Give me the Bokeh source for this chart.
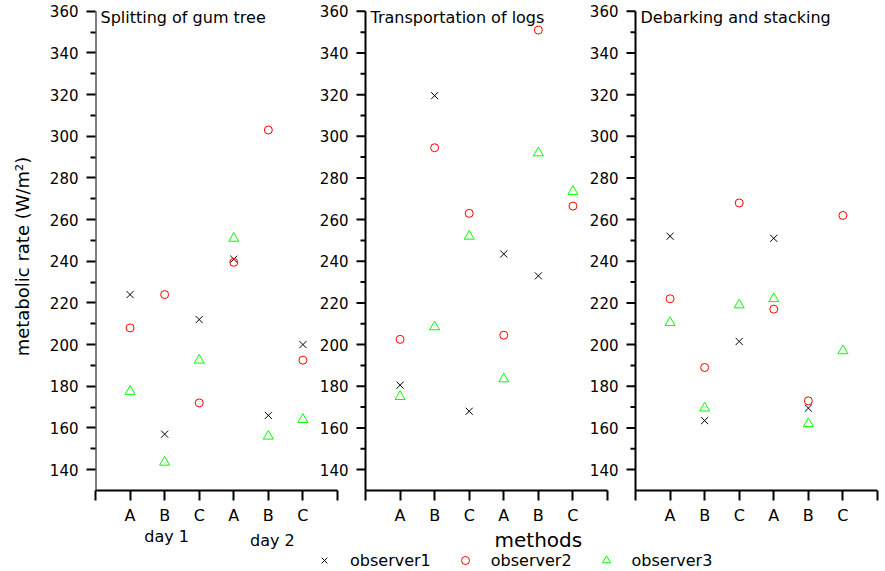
import math
from bokeh.plotting import figure
from bokeh.models import Range1d, FixedTicker, Label, Legend, LegendItem
from bokeh.layouts import row, column
from bokeh.core.properties import value
from bokeh.embed import file_html
from bokeh.resources import INLINE

nan = float("nan")

# ---------------- data ----------------
categories = ["A", "B", "C", "A", "B", "C"]
days = ["day 1", "day 2"]
panel_titles = ["Splitting of gum tree", "Transportation of logs", "Debarking and stacking"]
observers = ["observer1", "observer2", "observer3"]
x_title = "methods"
y_title = "metabolic rate (W/m²)"

gum_obs1 = [224, 157, 212, 241, 166, 200]
gum_obs2 = [208, 224, 172, 239.5, 303, 192.5]
gum_obs3 = [177.5, 143.5, 192.5, 251, 156, 164]

logs_obs1 = [180.5, 319.5, 168, 243.5, 233, nan]
logs_obs2 = [202.5, 294.5, 263, 204.5, 351, 266.5]
logs_obs3 = [175, 208.5, 252, 183.5, 292, 273.5]

debark_obs1 = [252, 163.5, 201.5, 251, 169.5, nan]
debark_obs2 = [222, 189, 268, 217, 173, 262]
debark_obs3 = [210.5, 169.5, 219, 222, 162, 197]

y_ticks = [140, 160, 180, 200, 220, 240, 260, 280, 300, 320, 340, 360]
y_minor = [150, 170, 190, 210, 230, 250, 270, 290, 310, 330, 350]

# ---------------- layout constants (page pixels) ----------------
FONT = "DejaVu Sans"
TOTAL_W, TOTAL_H = 884, 570
LBL_W = 40                 # narrow strip holding the y-axis title
MAIN_W = TOTAL_W - LBL_W
FRAME_LEFT = 95            # page x of the first panel's y axis
BL = FRAME_LEFT - LBL_W
FW = 782
BR = MAIN_W - BL - FW
MAIN_H = 527
FH = 495
BB = MAIN_H - FH
BOT_H = TOTAL_H - MAIN_H

SLOT = 100
PANEL_STEP = 781
X_END = 2 * PANEL_STEP + 7 * SLOT
px_x = FW / X_END
px_y = 481 / 230.0
Y0 = 128.5
Y1 = Y0 + FH / px_y
offsets = [i * PANEL_STEP for i in range(3)]
Y_AXIS_BOTTOM = 130
Y_AXIS_TOP = 360


def y_main(py):
    return Y1 - py / px_y


def y_bot(py):
    return TOTAL_H - py


def style(fig):
    fig.outline_line_color = None
    fig.background_fill_color = "white"
    fig.border_fill_color = "white"
    fig.xgrid.visible = False
    fig.ygrid.visible = False


xr = Range1d(0, X_END)

# ================= main figure =================
p = figure(width=MAIN_W, height=MAIN_H, x_range=xr, y_range=Range1d(Y0, Y1),
           output_backend="svg", toolbar_location=None,
           min_border_left=BL, min_border_right=BR, min_border_top=0, min_border_bottom=BB)
style(p)

yax = p.yaxis[0]
yax.ticker = FixedTicker(ticks=y_ticks, minor_ticks=y_minor)
yax.axis_line_color = None
yax.major_tick_line_width = 2
yax.minor_tick_line_width = 2
yax.major_tick_in = 0
yax.major_tick_out = 9
yax.minor_tick_in = 0
yax.minor_tick_out = 5
yax.major_label_standoff = 8
yax.major_label_text_font = FONT
yax.major_label_text_font_size = "15px"
yax.major_label_text_color = "black"

xt = []
overrides = {}
for off in offsets:
    for k in range(8):
        pos = off + k * SLOT
        xt.append(pos)
        overrides[pos] = categories[k - 1] if 1 <= k <= 6 else ""
xax = p.xaxis[0]
xax.ticker = FixedTicker(ticks=xt, minor_ticks=[])
xax.major_label_overrides = overrides
xax.axis_line_color = None
xax.major_tick_in = 3
xax.major_tick_out = 7
xax.major_tick_line_width = 2
xax.minor_tick_in = 0
xax.minor_tick_out = 0
xax.major_label_standoff = 5
xax.major_label_text_font = FONT
xax.major_label_text_font_size = "16px"
xax.major_label_text_color = "black"

# axis lines of every panel, ticks of panels 2 and 3
sx0, sy0, sx1, sy1 = [], [], [], []
for i, off in enumerate(offsets):
    sx0.append(off); sy0.append(Y_AXIS_BOTTOM); sx1.append(off + 7 * SLOT); sy1.append(Y_AXIS_BOTTOM)
    sx0.append(off); sy0.append(Y_AXIS_BOTTOM); sx1.append(off); sy1.append(Y_AXIS_TOP)
    if i > 0:
        for v in y_ticks:
            sx0.append(off - 9 / px_x); sy0.append(v); sx1.append(off); sy1.append(v)
        for v in y_minor:
            sx0.append(off - 5 / px_x); sy0.append(v); sx1.append(off); sy1.append(v)
p.segment(x0=sx0, y0=sy0, x1=sx1, y1=sy1, line_color="black", line_width=2)

for off in offsets[1:]:
    p.text(x=[off - 17 / px_x] * len(y_ticks), y=y_ticks, text=[str(v) for v in y_ticks],
           text_align="right", text_baseline="middle", text_font=value(FONT),
           text_font_size="15px", text_color="black")

for off, t in zip(offsets, panel_titles):
    p.add_layout(Label(x=off + 5 / px_x, y=y_main(17), text=t, text_align="left",
                       text_baseline="middle", text_font=FONT, text_font_size="16px",
                       text_color="black"))

series1 = [gum_obs1, logs_obs1, debark_obs1]
series2 = [gum_obs2, logs_obs2, debark_obs2]
series3 = [gum_obs3, logs_obs3, debark_obs3]


def flat(series):
    xs, ys = [], []
    for off, vals in zip(offsets, series):
        for k, v in enumerate(vals):
            xs.append(off + (k + 1) * SLOT)
            ys.append(v)
    return xs, ys


MARK = dict(
    o1=dict(marker="x", size=10, line_color="black", line_width=1),
    o2=dict(marker="circle", size=8, line_color="#FF0000", fill_color=None, line_width=1),
    o3=dict(marker="triangle", size=10, line_color="#00FF00", fill_color=None, line_width=1),
)
x1, y1 = flat(series1)
x2, y2 = flat(series2)
x3, y3 = flat(series3)
p.scatter(x=x1, y=y1, **MARK["o1"])
p.scatter(x=x2, y=y2, **MARK["o2"])
p.scatter(x=x3, y=y3, **MARK["o3"])

# ================= bottom strip: group labels, axis title, legend =================
b = figure(width=MAIN_W, height=BOT_H, x_range=xr, y_range=Range1d(0, BOT_H),
           output_backend="svg", toolbar_location=None,
           min_border_left=BL, min_border_right=BR, min_border_top=0, min_border_bottom=0)
style(b)
b.axis.visible = False

b.text(x=[2 * SLOT + 2 / px_x, 5 * SLOT + 4 / px_x], y=[y_bot(536), y_bot(540)], text=days,
       text_align="center", text_baseline="middle", text_font=value(FONT),
       text_font_size="16px", text_color="black")
b.text(x=[PANEL_STEP + 5 * SLOT], y=[y_bot(539)], text=[x_title],
       text_align="center", text_baseline="middle", text_font=value(FONT),
       text_font_size="20px", text_color="black")

# legend swatches: renderers without visible points, only used for the legend
lr1 = b.scatter(x=[nan], y=[nan], **MARK["o1"])
lr2 = b.scatter(x=[nan], y=[nan], **MARK["o2"])
lr3 = b.scatter(x=[nan], y=[nan], **MARK["o3"])
legend = Legend(items=[LegendItem(label=observers[0], renderers=[lr1]),
                       LegendItem(label=observers[1], renderers=[lr2]),
                       LegendItem(label=observers[2], renderers=[lr3])],
                orientation="horizontal", location=(314 - FRAME_LEFT, 0),
                border_line_color=None, background_fill_alpha=0, padding=0, margin=0,
                spacing=24, label_standoff=16, glyph_width=20, glyph_height=20,
                label_height=18, label_text_font=FONT, label_text_font_size="16px",
                label_text_color="black")
b.add_layout(legend)

# ================= left strip: y-axis title =================
lf = figure(width=LBL_W, height=TOTAL_H, x_range=Range1d(0, LBL_W), y_range=Range1d(0, TOTAL_H),
            output_backend="svg", toolbar_location=None,
            min_border_left=0, min_border_right=0, min_border_top=0, min_border_bottom=0)
style(lf)
lf.axis.visible = False
lf.text(x=[22], y=[TOTAL_H - 256], text=[y_title], angle=math.pi / 2,
        text_align="center", text_baseline="middle", text_font=value(FONT),
        text_font_size="18px", text_color="black")

layout = row(lf, column(p, b))
open("out.html", "w").write(file_html(layout, INLINE))
